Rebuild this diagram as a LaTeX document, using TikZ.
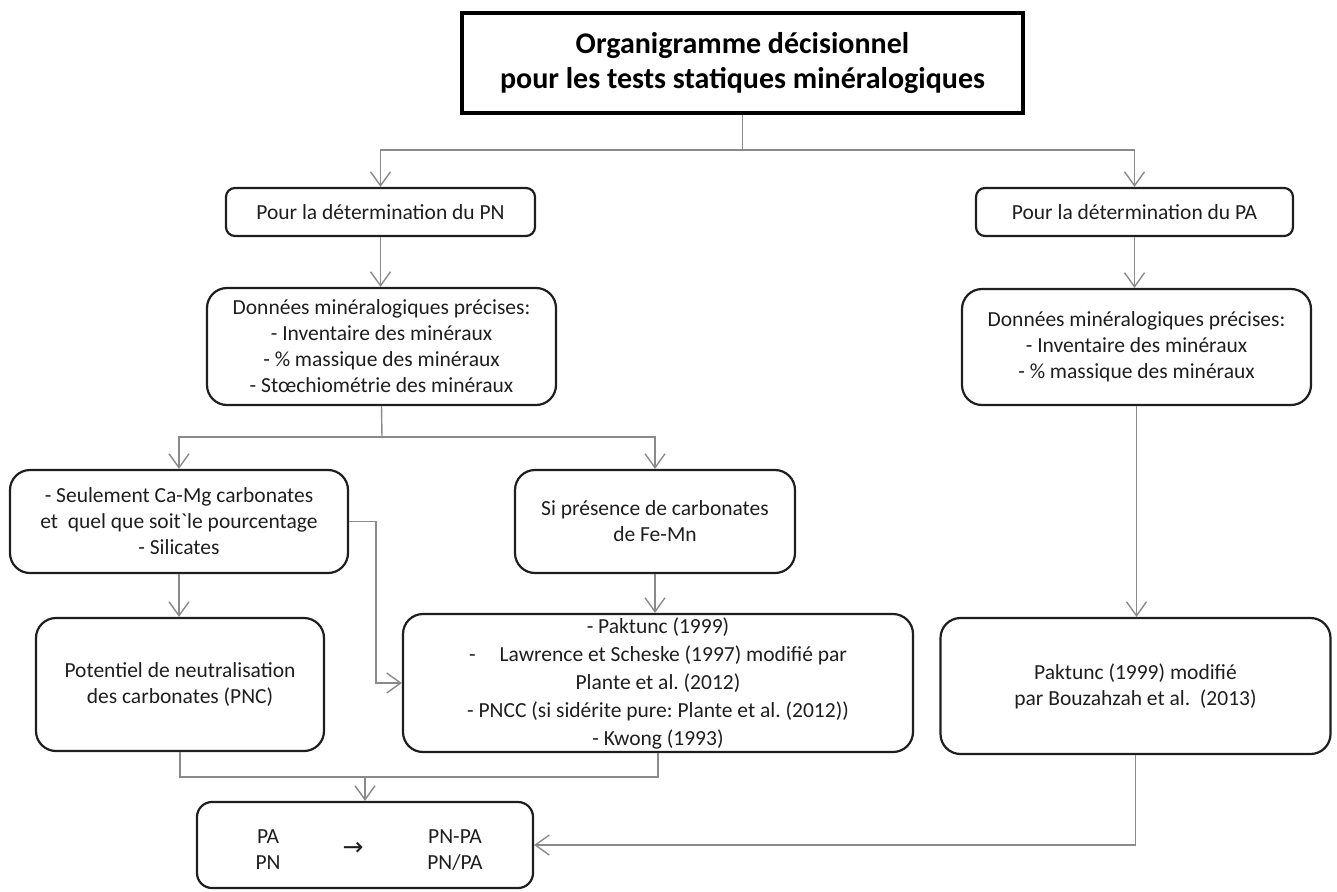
\documentclass[tikz,border=0pt]{standalone}
\usepackage{fontspec}
\setmainfont{Carlito}
\newfontfamily\symfont{DejaVu Sans}
\usetikzlibrary{arrows.meta}
\definecolor{cgray}{RGB}{138,138,138}
\definecolor{bline}{RGB}{30,30,30}
\definecolor{tcol}{RGB}{30,30,30}
\frenchspacing
\newcommand{\myfs}{\fontsize{21.5}{26}\selectfont}
\newcommand{\mybigfs}{\fontsize{21.5}{28}\selectfont}
\newcommand{\mytitlefs}{\fontsize{30}{35}\selectfont\bfseries}
\tikzset{
  x=1pt, y=-1pt,
  box/.style={draw=bline, line width=2.2pt, rounded corners=20pt, align=center,
    font=\myfs, text=tcol, inner sep=0pt},
  smallbox/.style={box, rounded corners=9pt},
  titlebox/.style={draw=black, line width=4.5pt, align=center, font=\mytitlefs,
    text=black, inner sep=0pt},
  plain/.style={font=\myfs, text=tcol, align=center, inner sep=0pt},
  conn/.style={draw=cgray, line width=1.4pt,
    -{Straight Barb[length=14pt,width=20pt,line width=1.4pt]}},
  link/.style={draw=cgray, line width=1.4pt},
}
\begin{document}
\begin{tikzpicture}
\useasboundingbox (0,0) rectangle (1337,891);

\node[titlebox, minimum width=561pt, minimum height=100pt] (title) at (742.5,63)
  {Organigramme décisionnel\\pour les tests statiques minéralogiques};

\node[smallbox, minimum width=309pt, minimum height=48pt] (pn) at (380.5,212)
  {Pour la détermination du PN};
\node[smallbox, minimum width=317pt, minimum height=48pt] (pa) at (1134.5,212)
  {Pour la détermination du PA};

\node[box, minimum width=349pt, minimum height=117pt] (dpn) at (381.5,346.5)
  {Données minéralogiques précises:\\- Inventaire des minéraux\\- \% massique des minéraux\\- Stœchiométrie des minéraux};
\node[box, minimum width=349pt, minimum height=116pt] (dpa) at (1136.5,347)
  {Données minéralogiques précises:\\- Inventaire des minéraux\\- \% massique des minéraux};

\node[box, minimum width=338pt, minimum height=103pt] (seul) at (179,521.5)
  {- Seulement Ca-Mg carbonates\\et\ \ quel que soit\textasciigrave le pourcentage\\- Silicates};
\node[box, minimum width=280pt, minimum height=103pt] (si) at (655,521.5)
  {Si présence de carbonates\\de Fe-Mn};

\node[box, minimum width=288pt, minimum height=133pt] (pnc) at (180,684.5)
  {Potentiel de neutralisation\\des carbonates (PNC)};
\node[box, font=\mybigfs, minimum width=510pt, minimum height=138pt] (big) at (658,683)
  {- Paktunc (1999)\\-\hspace{24pt}Lawrence et Scheske (1997) modifié par\\Plante et al. (2012)\\- PNCC (si sidérite pure: Plante et al. (2012))\\- Kwong (1993)};
\node[box, minimum width=390pt, minimum height=136pt] (pak) at (1135.5,686)
  {Paktunc (1999) modifié\\par Bouzahzah et al.\ \ (2013)};

\node[box, rounded corners=15pt, minimum width=336pt, minimum height=86pt] (bot) at (365,845) {};
\node[plain] (bl) at (268,850) {PA\\PN};
\node[plain, font=\symfont\fontsize{25}{28}\selectfont] (barrow) at (353,849) {→};
\node[plain] (br) at (455,850) {PN-PA\\PN/PA};

% connectors
\coordinate (t1) at (742.5,150);
\draw[link] (title.south) -- (t1);
\draw[conn] (t1) -| (pn.north);
\draw[conn] (t1) -| (pa.north);

\draw[conn] (pn.south) -- (pn.south |- dpn.north);
\draw[conn] (pa.south) -- (pa.south |- dpa.north);

\coordinate (d1) at (382,437);
\draw[link] (dpn.south) -- (d1);
\draw[conn] (d1) -| (seul.north);
\draw[conn] (d1) -| (si.north);

\draw[conn] (seul.south) -- (seul.south |- pnc.north);
\draw[conn] (si.south) -- (si.south |- big.north);
\draw[conn] (seul.east) -- ++(27,0) |- (big.west);

\draw[conn] (dpa.south) -- (dpa.south |- pak.north);

\coordinate (j1) at (365,777);
\draw[link] (pnc.south) |- (j1);
\draw[link] (big.south) |- (j1);
\draw[conn] (j1) -- (bot.north);

\draw[conn] (pak.south) |- (bot.east);
\end{tikzpicture}
\end{document}
